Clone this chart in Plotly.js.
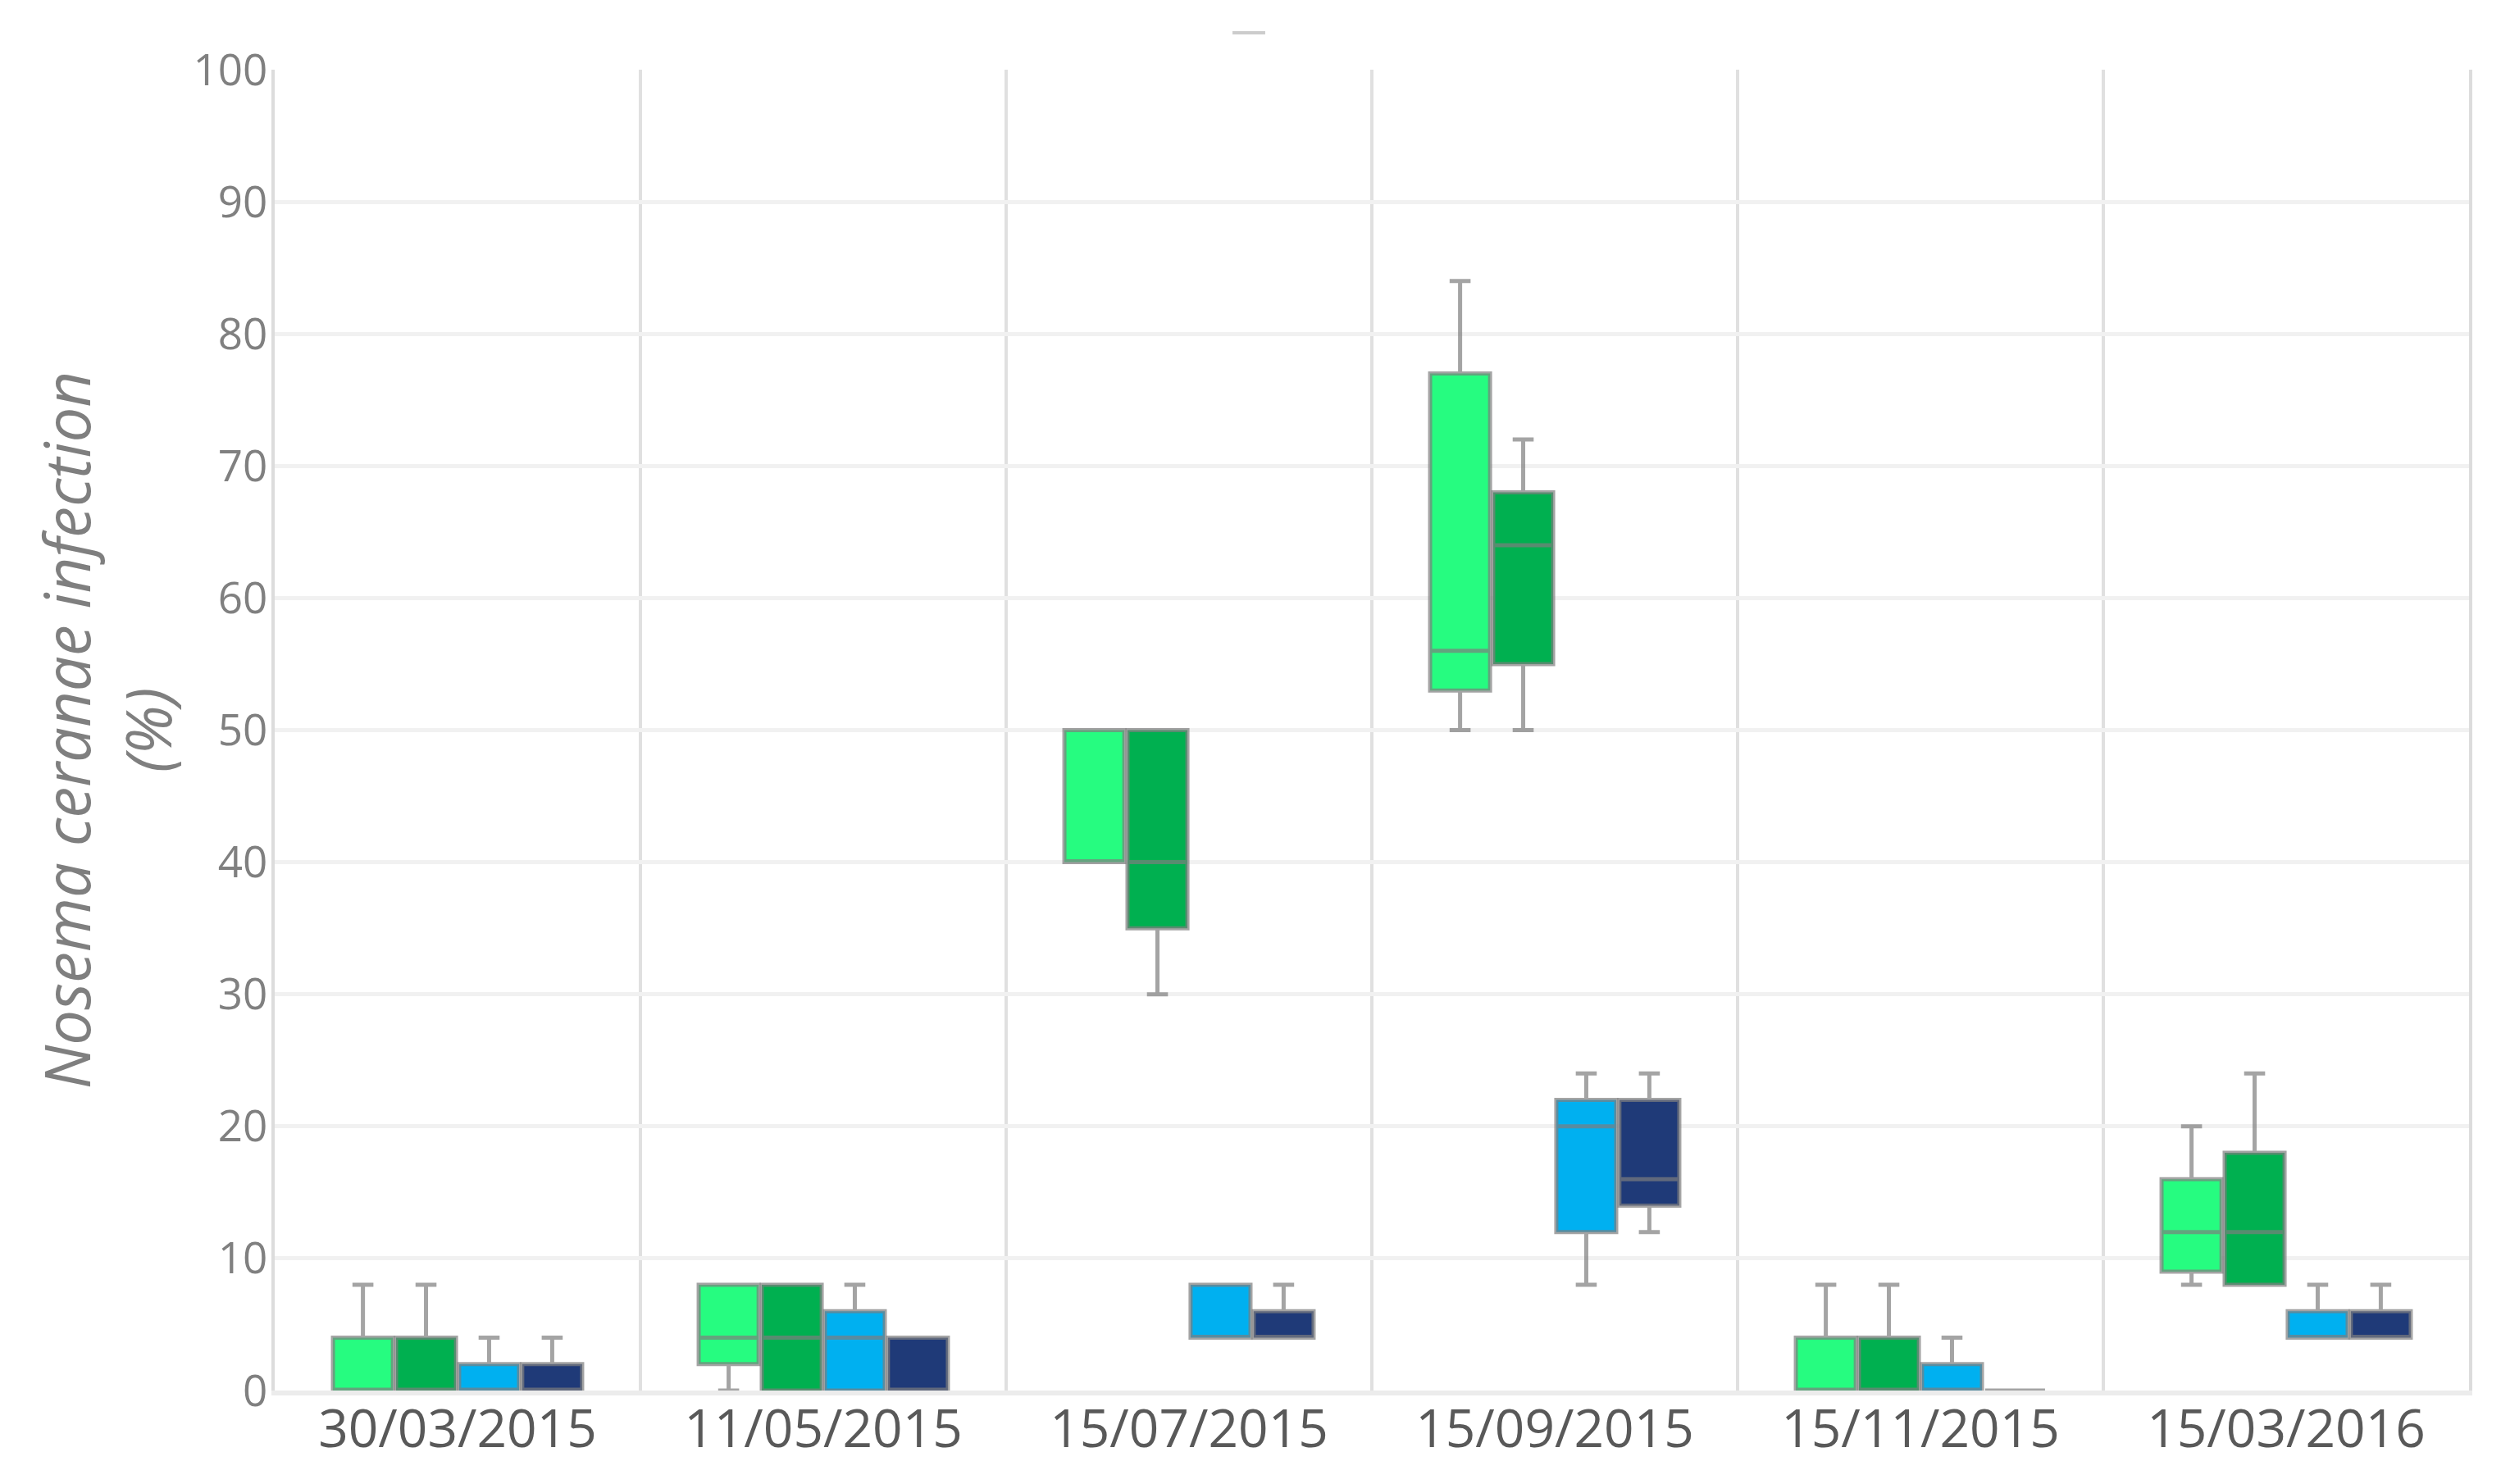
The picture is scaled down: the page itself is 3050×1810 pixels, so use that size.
<!DOCTYPE html>
<html>
<head>
<meta charset="utf-8">
<script src="https://cdn.plot.ly/plotly-3.0.1.min.js"></script>
<style>html,body{margin:0;padding:0;background:#fff;}#chart{width:3050px;height:1810px;}</style>
</head>
<body>
<div id="chart"></div>
<script>
// Sampling dates (categories)
const dates = ['30/03/2015', '11/05/2015', '15/07/2015', '15/09/2015', '15/11/2015', '15/03/2016'];

// Group 1 (light green)
const g1Q1  = [0, 2, 40, 53, 0, 9];
const g1Med = [0, 4, 40, 56, 0, 12];
const g1Q3  = [4, 8, 50, 77, 4, 16];
const g1Lo  = [0, 0, 40, 50, 0, 8];
const g1Hi  = [8, 8, 50, 84, 8, 20];

// Group 2 (green)
const g2Q1  = [0, 0, 35, 55, 0, 8];
const g2Med = [0, 4, 40, 64, 0, 12];
const g2Q3  = [4, 8, 50, 68, 4, 18];
const g2Lo  = [0, 0, 30, 50, 0, 8];
const g2Hi  = [8, 8, 50, 72, 8, 24];

// Group 3 (light blue)
const g3Q1  = [0, 0, 4, 12, 0, 4];
const g3Med = [0, 4, 4, 20, 0, 4];
const g3Q3  = [2, 6, 8, 22, 2, 6];
const g3Lo  = [0, 0, 4, 8, 0, 4];
const g3Hi  = [4, 8, 8, 24, 4, 8];

// Group 4 (dark blue)
const g4Q1  = [0, 0, 4, 14, 0, 4];
const g4Med = [0, 0, 4, 16, 0, 4];
const g4Q3  = [2, 4, 6, 22, 0, 6];
const g4Lo  = [0, 0, 4, 12, 0, 4];
const g4Hi  = [4, 4, 8, 24, 0, 8];

const groupNames = ['Group 1', 'Group 2', 'Group 3', 'Group 4'];
const fills = ['#26FC80', '#00B050', '#00B0F0', '#1F3A78'];
const stats = [
  [g1Q1, g1Med, g1Q3, g1Lo, g1Hi],
  [g2Q1, g2Med, g2Q3, g2Lo, g2Hi],
  [g3Q1, g3Med, g3Q3, g3Lo, g3Hi],
  [g4Q1, g4Med, g4Q3, g4Lo, g4Hi]
];

const traces = stats.map((s, i) => ({
  type: 'box',
  name: groupNames[i],
  x: dates,
  q1: s[0], median: s[1], q3: s[2], lowerfence: s[3], upperfence: s[4],
  fillcolor: fills[i],
  line: {color: 'rgba(125,125,125,0.7)', width: 5},
  whiskerwidth: 0.35,
  boxpoints: false,
  hoverinfo: 'skip',
  showlegend: false
}));

const F = '"Open Sans", "Noto Sans", sans-serif';
const layout = {
  width: 3050, height: 1810,
  paper_bgcolor: '#ffffff', plot_bgcolor: '#ffffff',
  margin: {l: 335, r: 39, t: 85, b: 114, pad: 0},
  boxmode: 'group',
  boxgap: 0.31,
  boxgroupgap: 0.05,
  showlegend: false,
  xaxis: {
    type: 'category',
    tickson: 'boundaries',
    showgrid: true, gridcolor: '#e0e0e0', gridwidth: 4,
    ticks: '', showline: true, linecolor: '#ececec', linewidth: 6,
    tickfont: {family: F, size: 64, color: '#595959'},
    ticklabelstandoff: -14,
    range: [-0.5, 5.5],
    zeroline: false
  },
  yaxis: {
    range: [0, 100], dtick: 10, tick0: 0,
    showgrid: true, gridcolor: '#f1f1f1', gridwidth: 5,
    zeroline: false,
    showline: true, mirror: true, linecolor: '#dcdcdc', linewidth: 4,
    ticks: '',
    tickfont: {family: F, size: 53, color: '#808080'},
    ticklabelstandoff: -6,
    title: {
      text: 'Nosema ceranae infection<br>(%)',
      font: {family: F, size: 76, color: '#7f7f7f', style: 'italic'},
      standoff: 2
    }
  },
  shapes: [{
    type: 'line', xref: 'paper', yref: 'paper',
    x0: 0.4365, x1: 0.4514, y0: 1.028, y1: 1.028,
    line: {color: '#cccccc', width: 4}
  }]
};

Plotly.newPlot('chart', traces, layout, {staticPlot: true, displayModeBar: false});
</script>
</body>
</html>
